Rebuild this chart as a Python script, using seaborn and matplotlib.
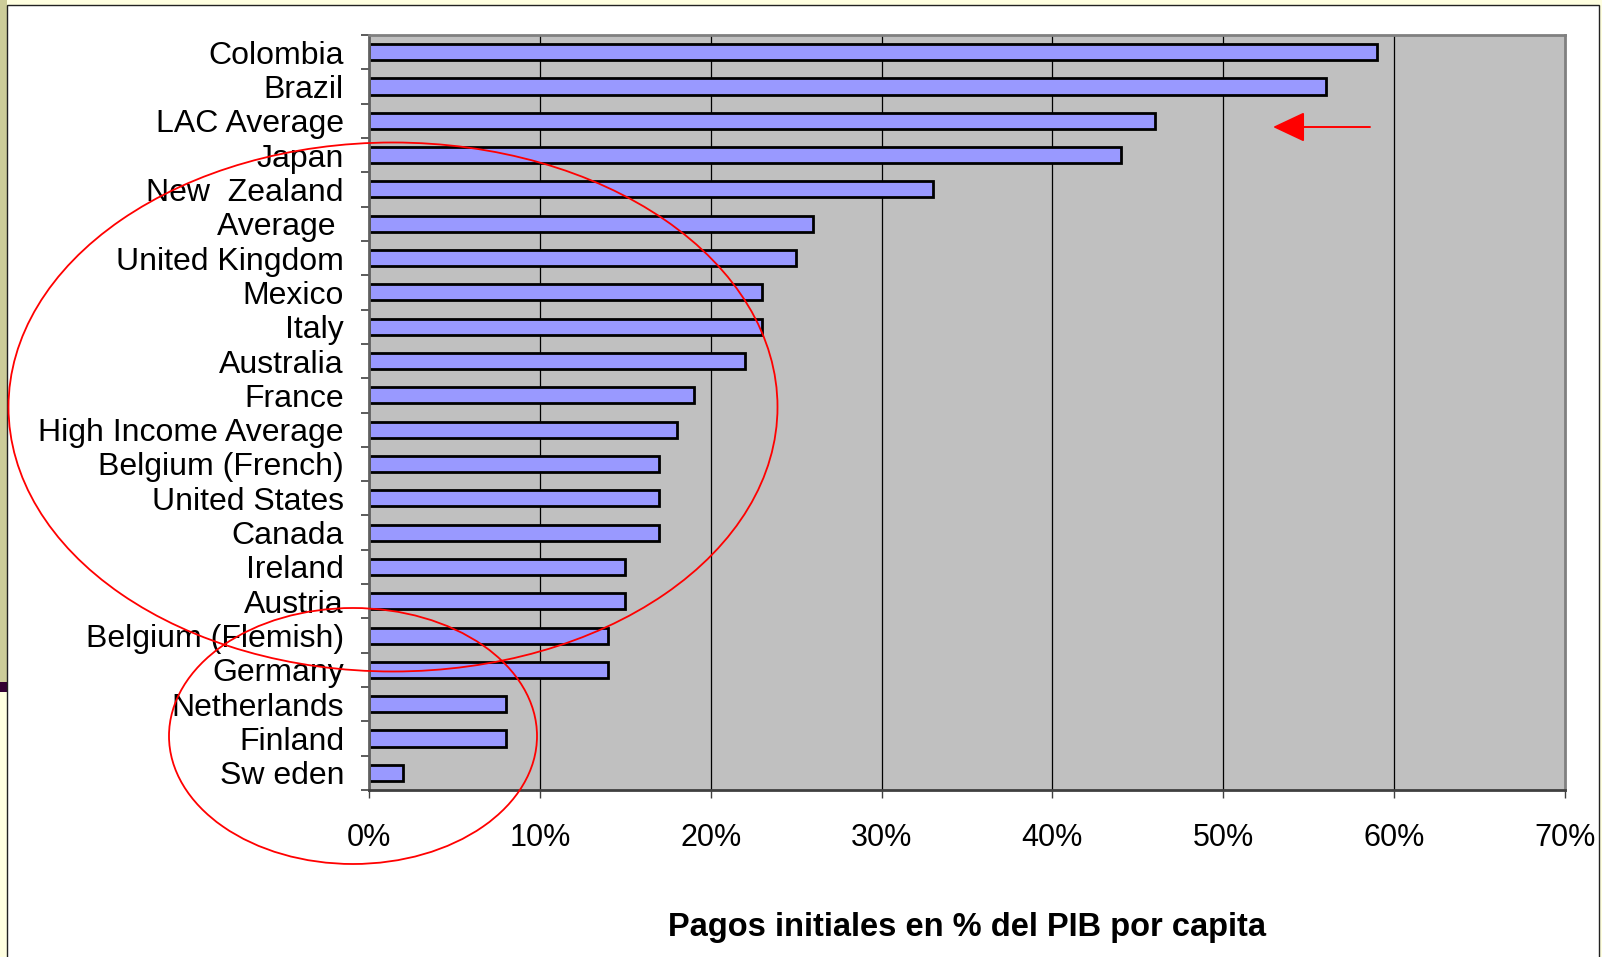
import numpy as np
import pandas as pd
import matplotlib
matplotlib.use("Agg")
import matplotlib.pyplot as plt
import seaborn as sns
from matplotlib.patches import Rectangle, Ellipse, FancyArrowPatch

# ---------------- data ----------------
countries = ["Colombia", "Brazil", "LAC Average", "Japan", "New  Zealand",
             "Average ", "United Kingdom", "Mexico", "Italy", "Australia",
             "France", "High Income Average", "Belgium (French)",
             "United States", "Canada", "Ireland", "Austria",
             "Belgium (Flemish)", "Germany", "Netherlands", "Finland",
             "Sw eden"]
values = [59, 56, 46, 44, 33, 26, 25, 23, 23, 22, 19, 18, 17, 17, 17,
          15, 15, 14, 14, 8, 8, 2]
x_ticks = [0, 10, 20, 30, 40, 50, 60, 70]
x_tick_labels = ["0%", "10%", "20%", "30%", "40%", "50%", "60%", "70%"]
x_label = "Pagos initiales en % del PIB por capita"

df = pd.DataFrame({"country": countries, "value": values})

# ---------------- style ----------------
sns.set_style("white")
plt.rcParams["font.family"] = ["Liberation Sans", "DejaVu Sans"]
plt.rcParams["text.color"] = "black"
plt.rcParams["axes.labelcolor"] = "black"
plt.rcParams["xtick.labelcolor"] = "black"
plt.rcParams["ytick.labelcolor"] = "black"

W, H = 1602, 957
fig = plt.figure(figsize=(W / 100, H / 100), dpi=100)
fig.patch.set_facecolor("#FFFFE0")

# slide decorations (background frame)
fig.add_artist(Rectangle((0, 1 - 682 / H), 7 / W, 682 / H,
                         transform=fig.transFigure, facecolor="#CCCC99",
                         edgecolor="none", zorder=-20))
fig.add_artist(Rectangle((0, 1 - 692 / H), 7 / W, 10 / H,
                         transform=fig.transFigure, facecolor="#330033",
                         edgecolor="none", zorder=-20))
fig.add_artist(Rectangle((7 / W, -0.02), (1599 - 7) / W, (H - 5) / H + 0.02,
                         transform=fig.transFigure, facecolor="white",
                         edgecolor="#222222", linewidth=1.0, zorder=-10))

ax = fig.add_axes([369 / W, 1 - 790 / H, (1565 - 369) / W, (790 - 35) / H])
ax.set_facecolor("#C0C0C0")

sns.barplot(data=df, x="value", y="country", orient="h", ax=ax,
            color="#9999FF", saturation=1, edgecolor="black",
            linewidth=2.0, width=0.47, errorbar=None, zorder=3)

ax.set_xlim(0, 70)
ax.set_ylim(len(countries) - 0.5, -0.5)
ax.set_xticks(x_ticks)
ax.set_xticklabels(x_tick_labels, fontsize=22, color="black")
ax.set_xlabel(x_label, fontsize=23.5, fontweight="bold", labelpad=42,
              color="black")
ax.set_ylabel("")
for lbl in ax.get_yticklabels():
    lbl.set_color("black")
ax.tick_params(axis="y", which="major", length=0, pad=18, labelsize=23)
ax.set_yticks(np.arange(-0.5, len(countries), 1), minor=True)
ax.tick_params(axis="y", which="minor", length=6, width=1.2, color="#404040",
               direction="out", left=True)
ax.tick_params(axis="x", which="major", length=6, width=1.0, color="#404040",
               direction="out", bottom=True, pad=18)

ax.grid(False)
for xv in x_ticks[1:-1]:
    ax.axvline(xv, color="black", linewidth=0.9, zorder=1)

for side in ["top", "right"]:
    ax.spines[side].set_color("#808080")
    ax.spines[side].set_linewidth(2.0)
ax.spines["left"].set_color("#606060")
ax.spines["left"].set_linewidth(2.0)
ax.spines["bottom"].set_color("#404040")
ax.spines["bottom"].set_linewidth(2.0)
for s in ax.spines.values():
    s.set_zorder(4)

# red hand-drawn annotations
fig.add_artist(Ellipse((393 / W, 1 - 407 / H), 769 / W, 529 / H,
                       transform=fig.transFigure, fill=False,
                       edgecolor="red", linewidth=1.3, zorder=20))
fig.add_artist(Ellipse((353 / W, 1 - 736 / H), 368 / W, 256 / H,
                       transform=fig.transFigure, fill=False,
                       edgecolor="red", linewidth=1.3, zorder=20))
arrow = FancyArrowPatch((1370 / W, 1 - 127 / H), (1273 / W, 1 - 127 / H),
                        transform=fig.transFigure,
                        arrowstyle="-|>,head_length=1.0,head_width=0.47",
                        mutation_scale=20, color="red", linewidth=1.4,
                        shrinkA=0, shrinkB=0, zorder=20)
fig.add_artist(arrow)

fig.savefig("out.png", dpi=100, facecolor=fig.get_facecolor())
